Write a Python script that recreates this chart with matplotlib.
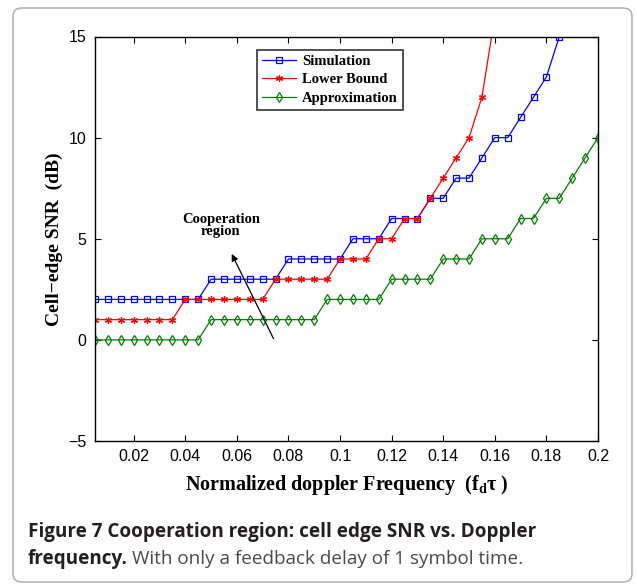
import numpy as np
import matplotlib
matplotlib.use("Agg")
import matplotlib.pyplot as plt
from matplotlib.patches import FancyBboxPatch

plt.rcParams["mathtext.fontset"] = "custom"
plt.rcParams["mathtext.rm"] = "Liberation Serif:bold"
plt.rcParams["mathtext.bf"] = "Liberation Serif:bold"
plt.rcParams["mathtext.it"] = "Liberation Serif:italic"

# Normalized doppler frequency grid
fd_tau = np.round(np.arange(0.005, 0.2001, 0.005), 3)

sim_snr = [2, 2, 2, 2, 2, 2, 2, 2, 2,
           3, 3, 3, 3, 3, 3,
           4, 4, 4, 4, 4,
           5, 5, 5,
           6, 6, 6,
           7, 7,
           8, 8,
           9,
           10, 10,
           11, 12, 13, 15]

lower_snr = [1, 1, 1, 1, 1, 1, 1,
             2, 2, 2, 2, 2, 2, 2,
             3, 3, 3, 3, 3,
             4, 4, 4,
             5, 5,
             6, 6,
             7, 8, 9, 10, 12, 16]

approx_snr = [0, 0, 0, 0, 0, 0, 0, 0, 0,
              1, 1, 1, 1, 1, 1, 1, 1, 1,
              2, 2, 2, 2, 2,
              3, 3, 3, 3,
              4, 4, 4,
              5, 5, 5,
              6, 6,
              7, 7,
              8, 9, 10]

x_ticks = [0.02, 0.04, 0.06, 0.08, 0.1, 0.12, 0.14, 0.16, 0.18, 0.2]
x_tick_labels = ["0.02", "0.04", "0.06", "0.08", "0.1", "0.12", "0.14", "0.16", "0.18", "0.2"]
y_ticks = [-5, 0, 5, 10, 15]
y_tick_labels = ["\u22125", "0", "5", "10", "15"]

W, H = 637, 584
fig = plt.figure(figsize=(W / 100, H / 100), dpi=100)

# rounded frame around figure and caption
frame = FancyBboxPatch((13 / W, 1 - 582 / H), (632 - 13) / W, (582 - 8) / H,
                       boxstyle="round,pad=0,rounding_size=0.014",
                       transform=fig.transFigure, facecolor="none",
                       edgecolor="#a8a8a8", linewidth=1.0)
fig.patches.append(frame)

left, right, top, bottom = 95 / W, 598 / W, 36.5 / H, 441 / H
ax = fig.add_axes([left, 1 - bottom, right - left, bottom - top])

n_sim = len(sim_snr)
n_low = len(lower_snr)
n_app = len(approx_snr)

ax.plot(fd_tau[:n_sim], sim_snr, color="#0000ff", lw=0.9, marker="s",
        markersize=4.2, markerfacecolor="none", markeredgewidth=0.9,
        label="Simulation")
ax.plot(fd_tau[:n_low], lower_snr, color="#ff0000", lw=0.9, marker=(6, 2, 0),
        markersize=5.0, markeredgewidth=0.9, label="Lower Bound")
ax.plot(fd_tau[:n_app], approx_snr, color="#008000", lw=0.9, marker="d",
        markersize=5.5, markerfacecolor="none", markeredgewidth=0.9,
        label="Approximation")

ax.set_xlim(0.005, 0.2)
ax.set_ylim(-5, 15)
ax.set_xticks(x_ticks)
ax.set_xticklabels(x_tick_labels, fontfamily="Liberation Sans", fontsize=11.5)
ax.set_yticks(y_ticks)
ax.set_yticklabels(y_tick_labels, fontfamily="Liberation Sans", fontsize=11.5)
ax.tick_params(direction="in", length=4, width=0.8, top=True, right=True, pad=6)
for s in ax.spines.values():
    s.set_linewidth(1.0)

ax.set_xlabel("Normalized doppler Frequency  (f$_{\\mathbf{d}}$\u03c4 )",
              fontfamily="Liberation Serif", fontweight="bold", fontsize=14.5,
              labelpad=6)
ax.set_ylabel("Cell\u2212edge SNR  (dB)", fontfamily="Liberation Serif",
              fontweight="bold", fontsize=14, labelpad=4)

leg = ax.legend(loc="upper center", bbox_to_anchor=(0.467, 0.985),
                prop={"family": "Liberation Serif", "weight": "bold", "size": 10.5},
                frameon=True, fancybox=False, edgecolor="black", handlelength=2.3,
                handletextpad=0.4, borderpad=0.35, labelspacing=0.35, numpoints=1)
leg.get_frame().set_linewidth(1.2)

ax.annotate("", xy=(0.058, 4.25), xytext=(0.0742, 0.06),
            arrowprops=dict(arrowstyle="-|>", color="black", lw=0.9,
                            mutation_scale=10, shrinkA=0, shrinkB=0))
ax.text(0.0538, 5.65, "Cooperation\nregion", ha="center", va="center",
        fontfamily="Liberation Serif", fontweight="bold", fontsize=10.5,
        linespacing=0.95)

# caption
cap_color = "#231f20"
cap_size = 13.6
fig.text(28 / W, 1 - 537 / H, "Figure 7 Cooperation region: cell edge SNR vs. Doppler",
         fontfamily="Open Sans", fontweight="bold", fontsize=cap_size, color=cap_color,
         va="baseline", ha="left")
t_bold = fig.text(28 / W, 1 - 564 / H, "frequency.", fontfamily="Open Sans",
                  fontweight="bold", fontsize=cap_size, color=cap_color,
                  va="baseline", ha="left")
renderer = fig.canvas.get_renderer()
bb = t_bold.get_window_extent(renderer)
x_next = (bb.x1 + 4) / W
fig.text(x_next, 1 - 564 / H, "With only a feedback delay of 1 symbol time.",
         fontfamily="Open Sans", fontsize=cap_size, color="#4a4a4a",
         va="baseline", ha="left")

fig.savefig("out.png", dpi=100)
